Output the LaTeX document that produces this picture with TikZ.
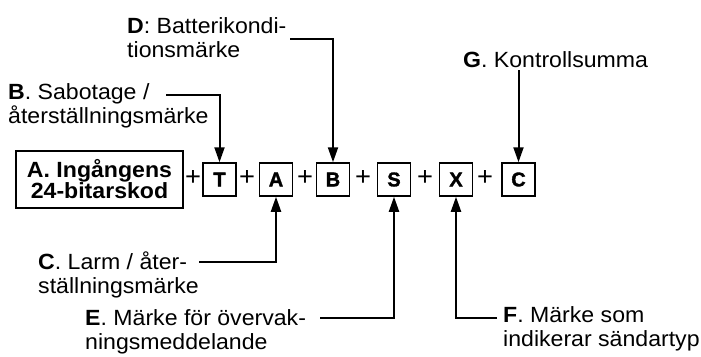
\documentclass[tikz,border=0pt]{standalone}
\usepackage{fontspec}
\setmainfont[FakeStretch=1.05]{Liberation Sans}
\newfontfamily\boxfont[FakeBold=1.5]{Liberation Sans Bold}
\usetikzlibrary{arrows.meta, positioning}

\begin{document}
\begin{tikzpicture}[
    x=1pt, y=-1pt,
    >={Triangle[width=10pt,length=15pt]},
    every node/.style={font=\fontsize{22}{23.5}\selectfont},
    markbox/.style={draw, line width=1.5pt, minimum width=33pt, minimum height=33pt, inner sep=0pt, font=\fontsize{20}{20}\boxfont},
    codebox/.style={draw, line width=2pt, minimum width=167pt, minimum height=57pt, inner sep=0pt, align=center, font=\fontsize{22}{21}\selectfont\bfseries},
    note/.style={anchor=base west, align=left, inner sep=0pt},
    plus/.style={inner sep=0pt, font=\fontsize{26}{26}\selectfont},
    lead/.style={line width=2pt, ->}
]
    \useasboundingbox (0,0) rectangle (701,356);

    % Kodrad
    \node[codebox] (in) at (99.5, 179) {A. Ingångens\\24-bitarskod};
    \node[plus] (p1) at (193, 178) {+};
    \node[markbox] (mT) at (219.5, 179.5) {T};
    \node[plus] (p2) at (247, 178) {+};
    \node[markbox] (mA) at (276, 179.5) {A};
    \node[plus] (p3) at (305, 178) {+};
    \node[markbox] (mB) at (333, 179.5) {B};
    \node[plus] (p4) at (363, 178) {+};
    \node[markbox] (mS) at (394, 179.5) {S};
    \node[plus] (p5) at (425, 178) {+};
    \node[markbox] (mX) at (456, 179.5) {X};
    \node[plus] (p6) at (485, 178) {+};
    \node[markbox] (mC) at (518.5, 179.5) {C};

    % Texter ovanför (position = sista radens baslinje)
    \node[note] (tB) at (8, 123) {\textbf{B}. Sabotage /\\återställningsmärke};
    \node[note] (tD) at (127, 57) {\textbf{D}: Batterikondi-\\tionsmärke};
    \node[note] (tG) at (463, 67) {\textbf{G}. Kontrollsumma};

    % Texter nedanför
    \node[note] (tC) at (38, 293) {\textbf{C}. Larm / åter-\\ställningsmärke};
    \node[note] (tE) at (85, 349) {\textbf{E}. Märke för övervak-\\ningsmeddelande};
    \node[note] (tF) at (503, 346) {\textbf{F}. Märke som\\indikerar sändartyp};

    % Ledlinjernas fria ändar
    \coordinate (bLead) at (166, 95);
    \coordinate (dLead) at (290, 39);
    \coordinate (gLead) at (518.5, 70);
    \coordinate (cLead) at (199, 262);
    \coordinate (eLead) at (320, 318);
    \coordinate (fLead) at (497, 318);

    % Pilar
    \draw[lead] (bLead) -| (mT.north);
    \draw[lead] (dLead) -| (mB.north);
    \draw[lead] (gLead) -- (mC.north);
    \draw[lead] (cLead) -| (mA.south);
    \draw[lead] (eLead) -| (mS.south);
    \draw[lead] (fLead) -| (mX.south);
\end{tikzpicture}
\end{document}
